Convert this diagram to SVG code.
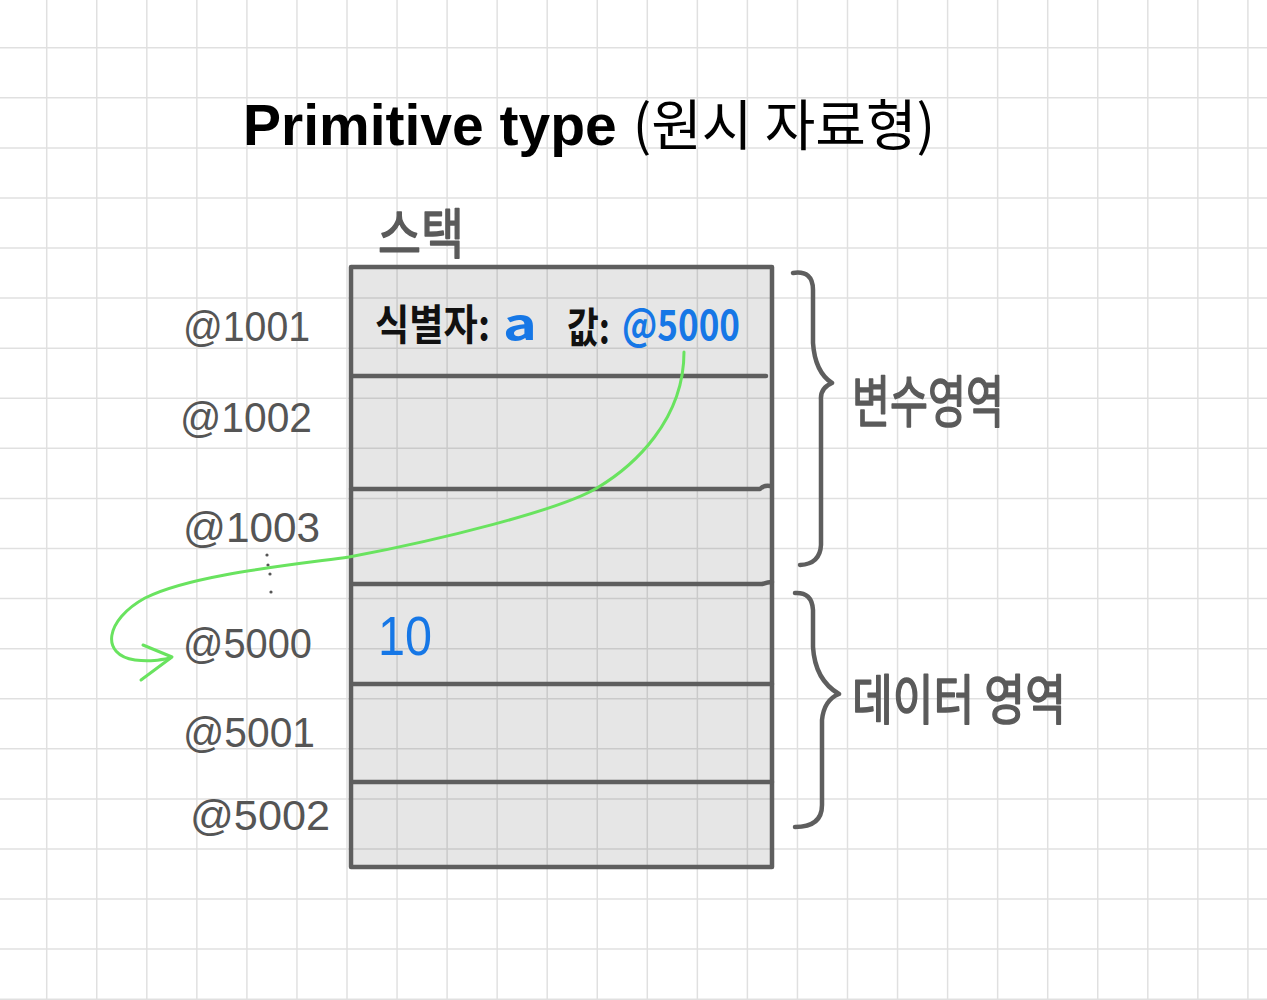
<svg xmlns="http://www.w3.org/2000/svg" width="1267" height="1000" viewBox="0 0 1267 1000">
  <defs>
    <style>
      .grid { stroke: rgba(0,0,0,0.12); stroke-width: 1.5; fill: none; }
      .box { fill: #e6e6e6; stroke: none; }
      .edge { stroke: #5e5e5e; stroke-width: 4.5; fill: none; stroke-linecap: round; stroke-linejoin: round; }
      .brace { stroke: #5e5e5e; stroke-width: 4.5; fill: none; stroke-linecap: round; stroke-linejoin: round; }
      .hand { font-family: "Noto Sans CJK KR", "Liberation Sans", sans-serif; fill: #5a5a5a; stroke: #5a5a5a; stroke-width: 1.6; stroke-linejoin: round; }
      .addr { font-family: "Liberation Sans", "Noto Sans CJK KR", sans-serif; fill: #555555; font-size: 42px; }
      .ink { font-family: "Noto Sans CJK KR", "Liberation Sans", sans-serif; font-weight: bold; font-size: 42px; }
      .black { fill: #111111; }
      .blue { fill: #1677e6; }
      .link { stroke: #69e35f; stroke-width: 3; fill: none; stroke-linecap: round; stroke-linejoin: round; }
    </style>
  </defs>
  <rect width="1267" height="1000" fill="#ffffff"/>
  <g id="box-fill">
    <rect class="box" x="351" y="267" width="421" height="600"/>
  </g>
  <path class="grid" d="M46.7,0V1000M96.75,0V1000M146.8,0V1000M196.85,0V1000M246.9,0V1000M296.95,0V1000M347,0V1000M397.05,0V1000M447.1,0V1000M497.15,0V1000M547.2,0V1000M597.25,0V1000M647.3,0V1000M697.35,0V1000M747.4,0V1000M797.45,0V1000M847.5,0V1000M897.55,0V1000M947.6,0V1000M997.65,0V1000M1047.7,0V1000M1097.75,0V1000M1147.8,0V1000M1197.85,0V1000M1247.9,0V1000M0,47.7H1267M0,97.8H1267M0,147.9H1267M0,197.9H1267M0,248H1267M0,298.1H1267M0,348.2H1267M0,398.3H1267M0,448.3H1267M0,498.4H1267M0,548.5H1267M0,598.6H1267M0,648.7H1267M0,698.7H1267M0,748.8H1267M0,798.9H1267M0,849H1267M0,899.1H1267M0,949.1H1267M0,999.2H1267"/>

  <g id="title">
    <text x="243" y="145" font-family="Liberation Sans, Noto Sans CJK KR, sans-serif" font-weight="bold" font-size="57" fill="#000000">Primitive type <tspan font-family="Noto Sans CJK KR, sans-serif" font-weight="normal" font-size="55">(원시 자료형)</tspan></text>
  </g>

  <g id="stack-label">
    <text class="hand" x="378" y="254" font-size="54" textLength="86" lengthAdjust="spacingAndGlyphs">스택</text>
  </g>

  <g id="stack">
    <path class="edge" d="M351,267H772V867H351Z"/>
    <path class="edge" d="M352,376H766"/>
    <path class="edge" d="M351,489H760Q764,485 770,486"/>
    <path class="edge" d="M352,584H762Q768,582 772,582"/>
    <path class="edge" d="M352,684H772"/>
    <path class="edge" d="M352,782H772"/>
  </g>

  <g id="cell-1001">
    <text class="ink black" x="375" y="340" textLength="115" lengthAdjust="spacingAndGlyphs">식별자:</text>
    <text class="ink blue" x="503" y="340" textLength="34" lengthAdjust="spacingAndGlyphs">a</text>
    <text class="ink black" x="567" y="343" textLength="43" lengthAdjust="spacingAndGlyphs">값:</text>
    <text class="ink blue" x="622" y="340" textLength="118" lengthAdjust="spacingAndGlyphs">@5000</text>
  </g>

  <g id="cell-5000">
    <text x="378" y="655" font-family="Liberation Sans, sans-serif" font-size="56" fill="#1677e6" textLength="54" lengthAdjust="spacingAndGlyphs">10</text>
  </g>

  <g id="addresses">
    <text class="addr" x="183" y="341" textLength="127" lengthAdjust="spacingAndGlyphs">@1001</text>
    <text class="addr" x="180" y="432" textLength="132" lengthAdjust="spacingAndGlyphs">@1002</text>
    <text class="addr" x="183" y="542" textLength="137" lengthAdjust="spacingAndGlyphs">@1003</text>
    <text class="addr" x="183" y="658" textLength="129" lengthAdjust="spacingAndGlyphs">@5000</text>
    <text class="addr" x="183" y="747" textLength="132" lengthAdjust="spacingAndGlyphs">@5001</text>
    <text class="addr" x="190" y="830" textLength="140" lengthAdjust="spacingAndGlyphs">@5002</text>
    <g fill="#555555">
      <circle cx="267" cy="555" r="1.6"/>
      <circle cx="268" cy="565" r="1.6"/>
      <circle cx="270" cy="574" r="1.6"/>
      <circle cx="271" cy="592" r="1.6"/>
    </g>
  </g>

  <g id="variable-area">
    <path class="brace" d="M793,273Q813,270 813,290V343Q815,372 832,383Q820,388 821,400V545Q820,564 800,565"/>
    <text class="hand" x="852" y="422" font-size="56" textLength="152" lengthAdjust="spacingAndGlyphs">변수영역</text>
  </g>

  <g id="data-area">
    <path class="brace" d="M795,593Q812,592 813,610V647Q815,680 839,694Q824,700 822,720V805Q822,827 795,827"/>
    <text class="hand" x="852" y="720" font-size="54" textLength="214" lengthAdjust="spacingAndGlyphs">데이터 영역</text>
  </g>

  <g id="connectors">
    <path class="link" d="M684,352C684,420 634,466 597,488C560,510 440,540 349,557C290,565 190,575 145,598C105,620 100,655 135,660C150,662 160,660 170,658"/>
    <path class="link" d="M143,645L172,657L141,680"/>
  </g>
</svg>
